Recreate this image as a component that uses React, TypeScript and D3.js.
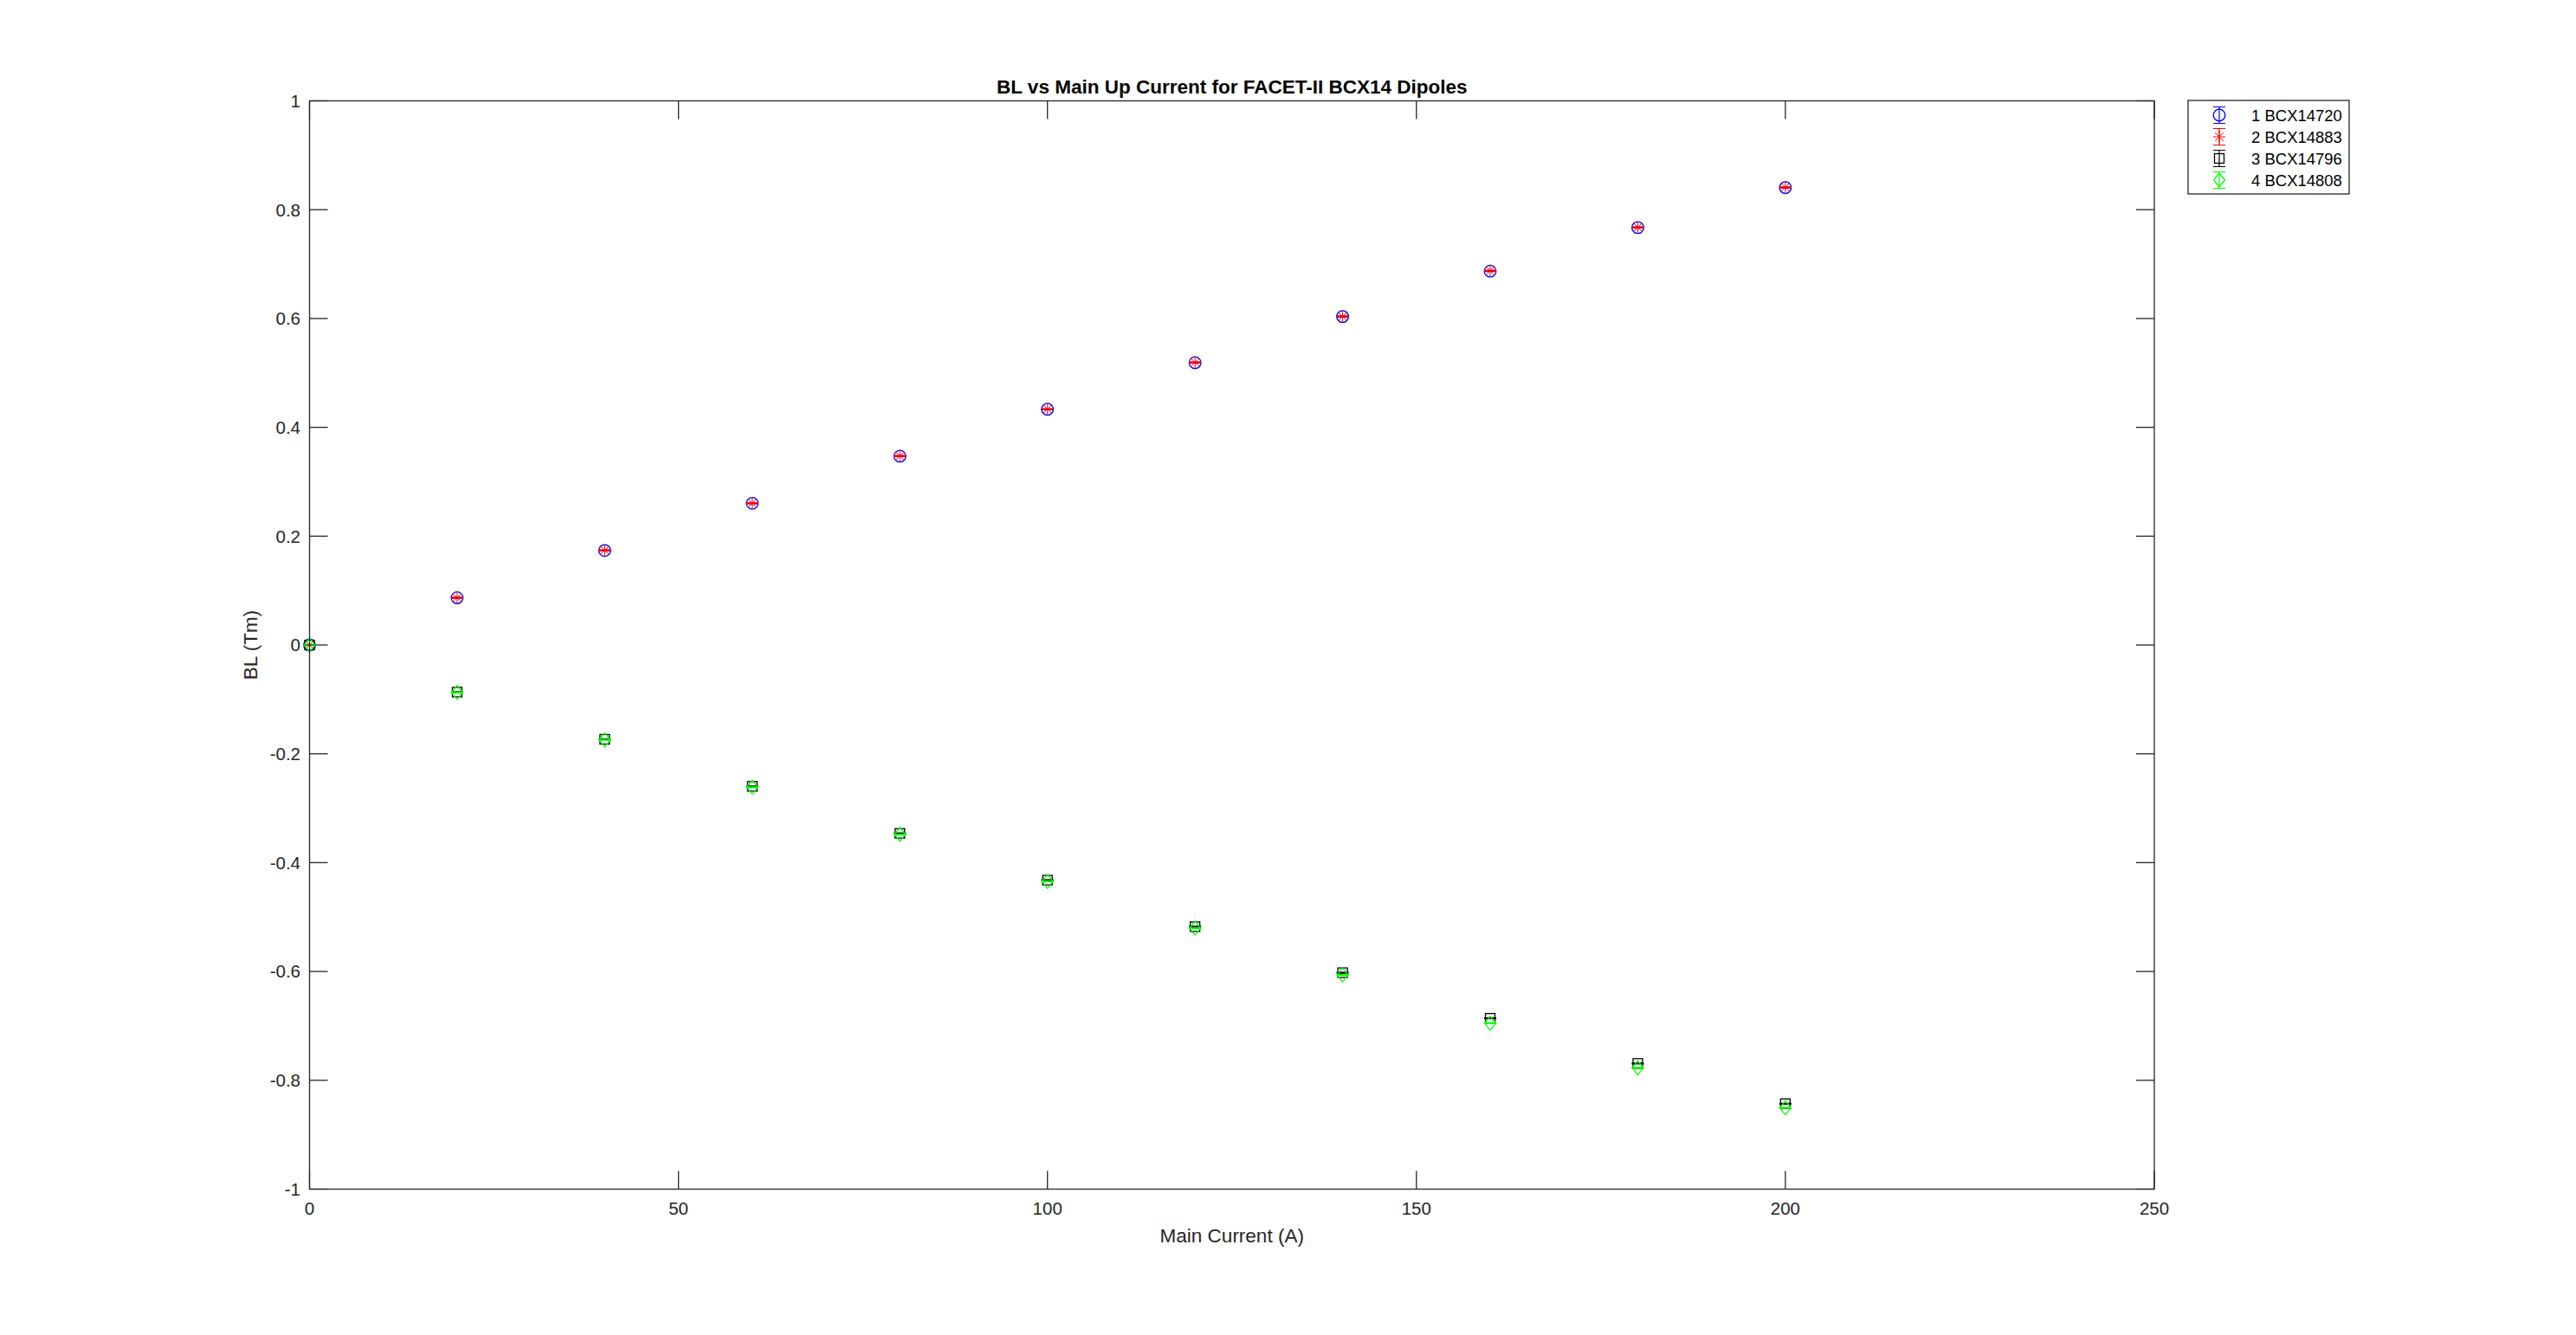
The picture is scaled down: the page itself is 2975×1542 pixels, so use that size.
import React from "react";
import * as d3 from "d3";

// main current setpoints (A)
const currents = [0, 20, 40, 60, 80, 100, 120, 140, 160, 180, 200];

// BL values (Tm)
const bl14720 = [0, 0.0868, 0.1737, 0.2604, 0.347, 0.4332, 0.5188, 0.6036, 0.6871, 0.7671, 0.8405];
const bl14883 = [0, 0.087, 0.174, 0.2608, 0.3474, 0.4336, 0.5193, 0.604, 0.6878, 0.7675, 0.841];
const bl14796 = [0, -0.0866, -0.1733, -0.2598, -0.3462, -0.4322, -0.5177, -0.6023, -0.686, -0.769, -0.843];
const bl14808 = [0, -0.0872, -0.1744, -0.2614, -0.3481, -0.4345, -0.5204, -0.6063, -0.695, -0.777, -0.8505];

// measurement errors (tiny, caps nearly collapse onto the marker)
const errSmall = [0, 0.0008, 0.0008, 0.0008, 0.0008, 0.0008, 0.0008, 0.0008, 0.0008, 0.0008, 0.0008];

const seriesNames = ["1 BCX14720", "2 BCX14883", "3 BCX14796", "4 BCX14808"];
const seriesColors = ["#0000ff", "#ff0000", "#000000", "#00ff00"];
const seriesMarkers = ["circle", "star", "square", "diamond"];
const seriesValues = [bl14720, bl14883, bl14796, bl14808];

const xTicks = [0, 50, 100, 150, 200, 250];
const yTicks = [-1, -0.8, -0.6, -0.4, -0.2, 0, 0.2, 0.4, 0.6, 0.8, 1];

const W = 2975;
const H = 1542;
const plot = { left: 357.5, right: 2488, top: 116.5, bottom: 1373.5 };
const axisColor = "#262626";
const font = "'Liberation Sans', Arial, Helvetica, sans-serif";

function Marker({ kind, x, y, color }) {
  const sw = 1.3;
  if (kind === "circle") {
    return <circle cx={x} cy={y} r={6.8} fill="none" stroke={color} strokeWidth={sw} />;
  }
  if (kind === "square") {
    return <rect x={x - 5.5} y={y - 5.5} width={11} height={11} fill="none" stroke={color} strokeWidth={sw} />;
  }
  if (kind === "diamond") {
    return (
      <path
        d={`M${x},${y - 8}L${x + 6.5},${y}L${x},${y + 8}L${x - 6.5},${y}Z`}
        fill="none"
        stroke={color}
        strokeWidth={sw}
      />
    );
  }
  // star = plus + cross
  const s = 7;
  const d = 4.8;
  return (
    <path
      d={`M${x - s},${y}L${x + s},${y}M${x},${y - s}L${x},${y + s}M${x - d},${y - d}L${x + d},${y + d}M${x - d},${y + d}L${x + d},${y - d}`}
      stroke={color}
      strokeWidth={1}
      fill="none"
    />
  );
}

function ErrorBar({ x, y0, y1, color }) {
  const cap = 7;
  return (
    <path
      d={`M${x},${y0}L${x},${y1}M${x - cap},${y0}L${x + cap},${y0}M${x - cap},${y1}L${x + cap},${y1}`}
      stroke={color}
      strokeWidth={1.2}
      fill="none"
    />
  );
}

export default function App() {
  const x = d3.scaleLinear().domain([0, 250]).range([plot.left, plot.right]);
  const y = d3.scaleLinear().domain([-1, 1]).range([plot.bottom, plot.top]);
  const tickLen = 21;
  const fmtY = (v) => String(+v.toFixed(1));

  const legend = { x: 2527, y: 116, w: 186, h: 108 };

  return (
    <svg
      width={W}
      height={H}
      style={{ position: "absolute", left: 0, top: 0, background: "#fff" }}
      fontFamily={font}
    >
      <rect x={0} y={0} width={W} height={H} fill="#fff" />

      {/* ticks */}
      <g stroke={axisColor} strokeWidth={1.3}>
        {xTicks.map((t) => (
          <g key={"xt" + t}>
            <line x1={x(t)} x2={x(t)} y1={plot.bottom} y2={plot.bottom - tickLen} />
            <line x1={x(t)} x2={x(t)} y1={plot.top} y2={plot.top + tickLen} />
          </g>
        ))}
        {yTicks.map((t) => (
          <g key={"yt" + t}>
            <line x1={plot.left} x2={plot.left + tickLen} y1={y(t)} y2={y(t)} />
            <line x1={plot.right} x2={plot.right - tickLen} y1={y(t)} y2={y(t)} />
          </g>
        ))}
      </g>

      {/* data */}
      {seriesValues.map((vals, si) => (
        <g key={"s" + si}>
          {vals.map((v, i) => (
            <g key={i}>
              <ErrorBar
                x={x(currents[i])}
                y0={y(v - errSmall[i])}
                y1={y(v + errSmall[i])}
                color={seriesColors[si]}
              />
              <Marker kind={seriesMarkers[si]} x={x(currents[i])} y={y(v)} color={seriesColors[si]} />
            </g>
          ))}
        </g>
      ))}

      {/* axes box */}
      <rect
        x={plot.left}
        y={plot.top}
        width={plot.right - plot.left}
        height={plot.bottom - plot.top}
        fill="none"
        stroke={axisColor}
        strokeWidth={1.3}
      />

      {/* tick labels */}
      <g fill={axisColor} fontSize={20.5}>
        {xTicks.map((t) => (
          <text key={"xl" + t} x={x(t)} y={1403} textAnchor="middle">
            {t}
          </text>
        ))}
        {yTicks.map((t) => (
          <text key={"yl" + t} x={347} y={y(t)} dy="0.36em" textAnchor="end">
            {fmtY(t)}
          </text>
        ))}
      </g>

      {/* labels */}
      <text x={(plot.left + plot.right) / 2} y={1435} textAnchor="middle" fontSize={22.5} fill={axisColor}>
        Main Current (A)
      </text>
      <text
        transform={`translate(297,${(plot.top + plot.bottom) / 2}) rotate(-90)`}
        textAnchor="middle"
        fontSize={22.5}
        fill={axisColor}
      >
        BL (Tm)
      </text>
      <text
        x={(plot.left + plot.right) / 2}
        y={107.5}
        textAnchor="middle"
        fontSize={22.5}
        fontWeight="bold"
        fill="#000"
      >
        BL vs Main Up Current for FACET-II BCX14 Dipoles
      </text>

      {/* legend */}
      <g>
        <rect
          x={legend.x}
          y={legend.y}
          width={legend.w}
          height={legend.h}
          fill="#fff"
          stroke={axisColor}
          strokeWidth={1.3}
        />
        {seriesNames.map((name, i) => {
          const cy = 133 + i * 25;
          return (
            <g key={name}>
              <ErrorBar x={2563} y0={cy - 9.5} y1={cy + 9.5} color={seriesColors[i]} />
              <Marker kind={seriesMarkers[i]} x={2563} y={cy} color={seriesColors[i]} />
              <text x={2600} y={cy} dy="0.36em" fontSize={18.5} fill="#000">
                {name}
              </text>
            </g>
          );
        })}
      </g>
    </svg>
  );
}
